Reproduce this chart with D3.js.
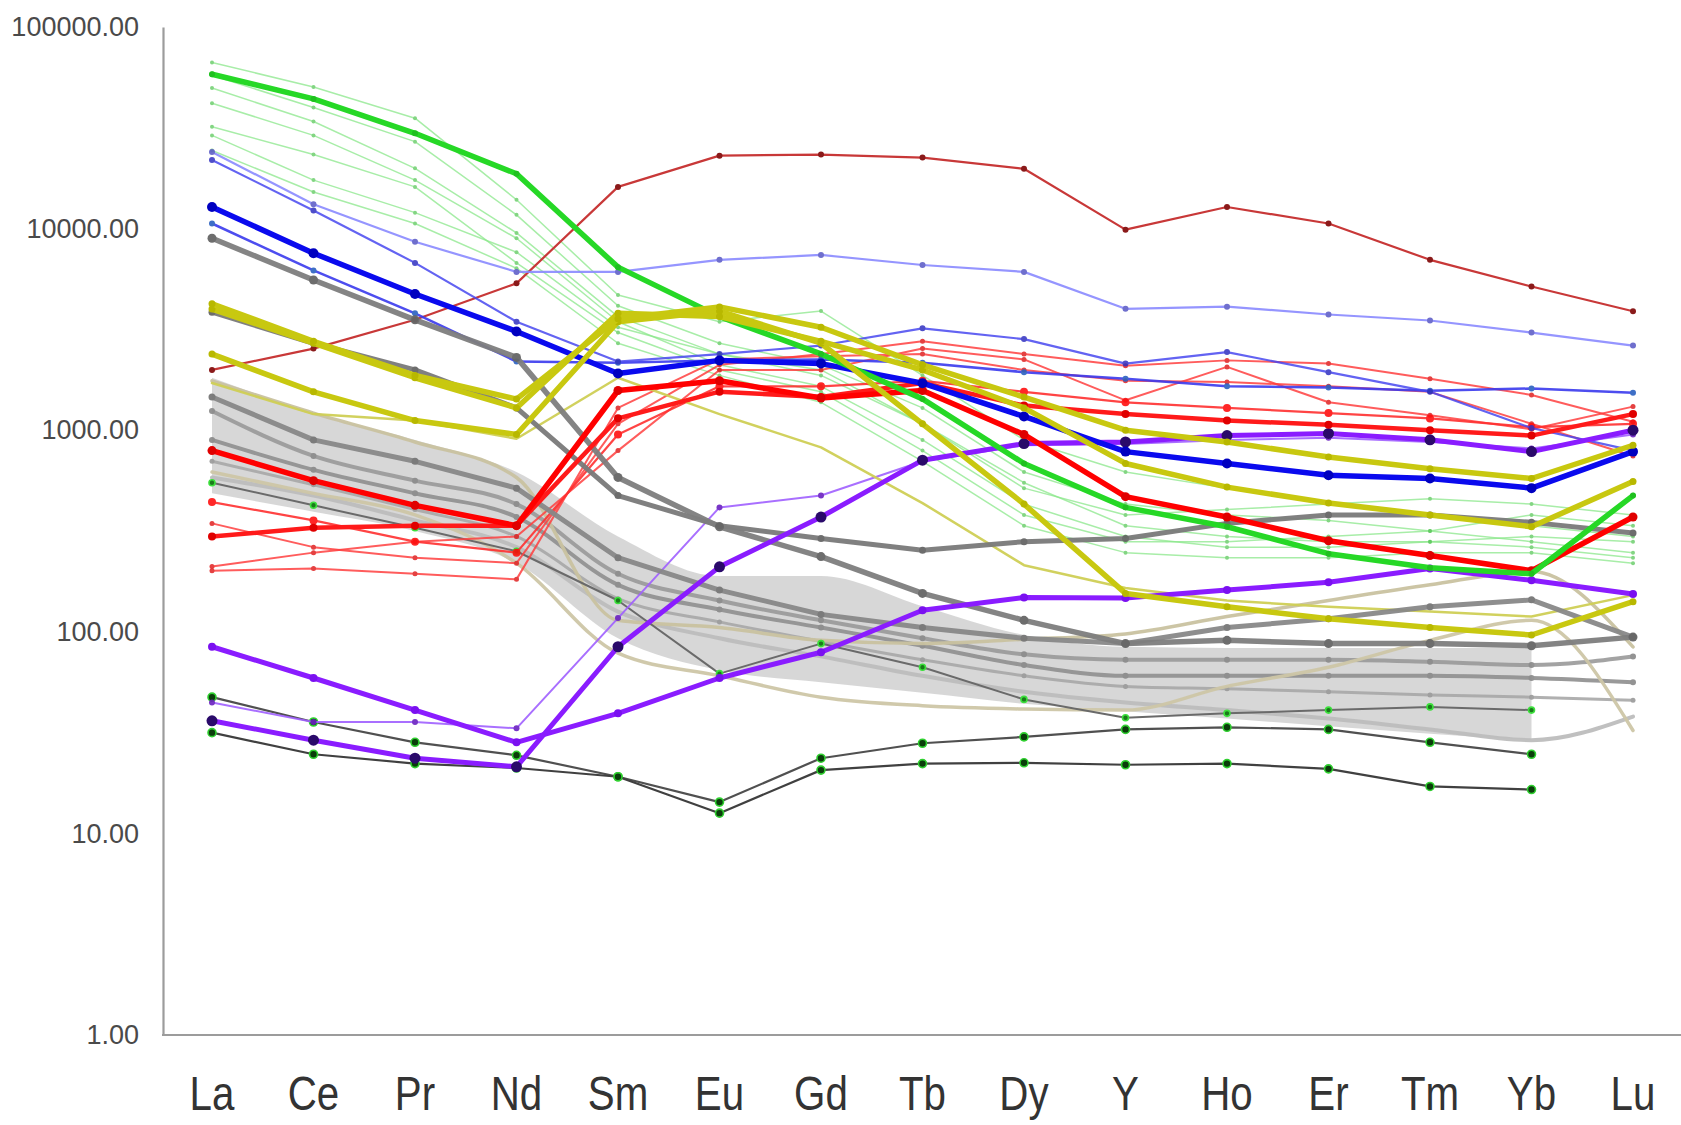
<!DOCTYPE html>
<html><head><meta charset="utf-8">
<script src="https://cdn.jsdelivr.net/npm/d3@7"></script>
<style>
html,body{margin:0;padding:0;background:#fff;}
svg{display:block;font-family:"Liberation Sans",Arial,sans-serif;}
</style></head>
<body>
<svg id="chart" width="1681" height="1125"></svg>
<script>
// REE elements along the x axis
const elements = ["La","Ce","Pr","Nd","Sm","Eu","Gd","Tb","Dy","Y","Ho","Er","Tm","Yb","Lu"];
const yTicks = [1, 10, 100, 1000, 10000, 100000];
const yTickLabels = ["1.00","10.00","100.00","1000.00","10000.00","100000.00"];

// shaded reference field (La..Yb)
const fieldUpper = [1820, 1216, 895, 620, 297, 189, 189, 134, 96.4, 84.2, 83.2, 83.2, 83.2, 83.2];
const fieldLower = [486, 394, 316, 219, 92.9, 64.4, 56.2, 49.8, 44.0, 40.4, 37.1, 34.0, 31.2, 29.0];

// grey samples inside the field
const greyField1 = [1246, 745, 562, 430, 194, 143, 114, 92.9, 77.3, 72.7, 72.7, 72.7, 71.0, 68.4, 75.5];
const greyField2 = [895, 636, 486, 371, 171, 129, 105, 85.3, 68.4, 60.5, 60.5, 60.5, 60.5, 59.0, 56.2];
const greyField3 = [701, 536, 404, 297, 146, 112, 89.6, 72.7, 60.5, 53.6, 52.2, 50.4, 48.6, 47.4, 45.7];
const greyField4 = [583, 474, 357, 263, 126, 92.9, 75.5, 60.5, 50.4, 44.6, 40.9, 37.1, 32.8, 29.0, 38.0];
const tan1 = [1757, 1216, 874, 583, 114, 105, 90.7, 87.4, 91.8, 97.6, 119, 143, 171, 199, 84.2];
const tan2 = [620, 486, 380, 219, 78.3, 60.5, 47.4, 43.0, 41.4, 40.9, 53.6, 66.7, 90.7, 114, 32.4];

// grey samples
const grey1 = [8955, 5556, 3527, 2297, 583, 332, 236, 155, 114, 87.4, 90.7, 87.4, 87.4, 85.3, 94.1];
const grey2 = [3850, 2700, 1990, 1290, 474, 336, 290, 254, 280, 290, 345, 380, 380, 349, 309];
const grey3 = [1462, 895, 701, 516, 233, 161, 122, 105, 92.9, 87.4, 105, 116, 133, 144, 94.1];

// low-concentration samples (no Lu)
const dark1 = [47.4, 35.7, 28.3, 24.4, 19.1, 14.3, 23.6, 28.0, 30.1, 32.8, 33.6, 32.8, 28.3, 24.7, null];
const dark2 = [31.6, 24.7, 22.2, 21.1, 19.1, 12.6, 20.6, 22.2, 22.4, 21.9, 22.2, 20.9, 17.1, 16.5, null];
const dark3 = [549, 424, 328, 251, 143, 62.0, 87.4, 66.7, 46.2, 37.5, 39.4, 40.9, 42.4, 40.9, null];

// light green group
const lightGreen1 = [66700, 50400, 35300, 13900, 4680, 3450, 3900, 1870, 895, 620, 516, 430, 380, 336, 297];
const lightGreen2 = [57600, 39900, 27000, 11700, 4140, 2700, 2110, 1290, 620, 430, 380, 357, 316, 280, 247];
const lightGreen3 = [49800, 34000, 19900, 9520, 3660, 2385, 1870, 1076, 549, 336, 297, 280, 280, 263, 233];
const lightGreen4 = [41900, 29000, 17400, 8955, 3450, 2110, 1650, 895, 430, 297, 263, 263, 280, 297, 280];
const lightGreen5 = [32000, 23300, 16100, 6760, 3050, 1990, 1550, 792, 380, 280, 280, 297, 316, 380, 336];
const lightGreen6 = [29000, 17400, 12000, 7640, 3240, 2385, 1990, 1076, 516, 380, 404, 430, 457, 430, 380];
const lightGreen7 = [24400, 15200, 10600, 6360, 2700, 1870, 1375, 701, 336, 247, 233, 233, 247, 247, 219];
const greenMain = [58300, 44000, 29700, 18700, 6440, 3660, 2390, 1430, 684, 414, 332, 244, 208, 194, 474];

// red group
const redBrown = [1990, 2540, 3530, 5350, 16100, 23000, 23300, 22500, 19800, 9880, 12800, 10600, 7000, 5160, 3890];
const red3 = [440, 357, 280, 247, 952, 1650, 1650, 1757, 1550, 1375, 1290, 1216, 1144, 1036, 1076];
const red4 = [345, 263, 233, 219, 1076, 2110, 2385, 2760, 2385, 2090, 2220, 2140, 1800, 1496, 1101];
const red5 = [211, 247, 280, 297, 792, 1990, 1990, 2540, 2245, 1407, 2060, 1375, 1187, 1012, 1309];
const red6 = [201, 206, 194, 182, 1290, 2245, 2330, 2385, 1990, 1757, 1735, 1650, 1550, 1076, 745];
const red2 = [297, 328, 336, 336, 1145, 1553, 1462, 1714, 1325, 1202, 1117, 1064, 1000, 940, 1202];
const redMain = [792, 562, 424, 336, 1574, 1758, 1445, 1574, 952, 468, 371, 283, 239, 201, 371];

// blue group
const periwinkle = [24000, 13200, 8600, 6100, 6100, 7000, 7400, 6600, 6100, 4000, 4100, 3750, 3500, 3050, 2630];
const blue2 = [21900, 12300, 6760, 3450, 2190, 2385, 2630, 3200, 2830, 2140, 2440, 1940, 1550, 1025, 792];
const blue3 = [10600, 6200, 3800, 2190, 2160, 2220, 2245, 2160, 1940, 1800, 1650, 1630, 1570, 1610, 1535];
const blueMain = [12800, 7550, 4740, 3090, 1910, 2220, 2140, 1710, 1170, 783, 684, 598, 576, 516, 783];

// yellow group
const yellow1 = [4240, 2760, 1870, 1427, 3570, 4090, 3240, 2110, 1460, 1000, 874, 736, 644, 576, 842];
const yellow2 = [3990, 2700, 1820, 1290, 3800, 3660, 2760, 1990, 1290, 684, 522, 435, 380, 332, 556];
const yellow3 = [2385, 1550, 1116, 952, 3450, 3900, 2700, 1076, 430, 155, 133, 116, 105, 96.4, 141];
const yellowThin = [1714, 1202, 1116, 907, 1820, 1202, 822, 435, 214, 165, 143, 133, 126, 119, 152];

// purple group
const purpleMain = [84.3, 59.0, 40.9, 28.3, 39.4, 59.0, 79.2, 128, 148, 147, 161, 176, 206, 180, 154];
const purpleDark = [36.2, 29.0, 23.6, 21.4, 84.3, 210, 371, 710, 858, 874, 940, 964, 896, 783, 1000];
const purpleThin = [44.6, 35.7, 35.7, 33.2, 117, 414, 474, 701, 842, 853, 895, 918, 874, 812, 952];

// drawing styles, in paint order
const series = [
  {v: greyField4, c: "#bdbdbd", w: 4, o: 0.95, m: 0, curve: true},
  {v: greyField3, c: "#a8a8a8", w: 3, o: 0.9, m: 2.5, mc: "#999", curve: true},
  {v: greyField2, c: "#8f8f8f", w: 4, o: 0.9, m: 3, mc: "#888", curve: true},
  {v: greyField1, c: "#9a9a9a", w: 4, o: 0.9, m: 3, mc: "#888", curve: true},
  {v: tan2, c: "#cdc6a6", w: 3.5, o: 0.95, m: 0, curve: true},
  {v: tan1, c: "#c9c2a0", w: 3.5, o: 0.95, m: 0, curve: true},
  {v: dark3, c: "#6a6a6a", w: 2, o: 1, m: 3, mc: "#1a7a1a", ms: "#3ce03c"},
  {v: dark1, c: "#505050", w: 2.2, o: 1, m: 4, mc: "#0b3d0b", ms: "#30d030"},
  {v: dark2, c: "#404040", w: 2.2, o: 1, m: 4, mc: "#0b3d0b", ms: "#30d030"},
  {v: lightGreen7, c: "#8be88b", w: 1.5, o: 0.75, m: 2, mc: "#5ac85a"},
  {v: lightGreen6, c: "#8be88b", w: 1.5, o: 0.75, m: 2, mc: "#5ac85a"},
  {v: lightGreen5, c: "#8be88b", w: 1.5, o: 0.75, m: 2, mc: "#5ac85a"},
  {v: lightGreen4, c: "#8be88b", w: 1.5, o: 0.75, m: 2, mc: "#5ac85a"},
  {v: lightGreen3, c: "#8be88b", w: 1.5, o: 0.75, m: 2, mc: "#5ac85a"},
  {v: lightGreen2, c: "#8be88b", w: 1.5, o: 0.75, m: 2, mc: "#5ac85a"},
  {v: lightGreen1, c: "#8be88b", w: 1.5, o: 0.75, m: 2, mc: "#5ac85a"},
  {v: red6, c: "#ff4040", w: 2, o: 0.85, m: 2.5, mc: "#e02020"},
  {v: red5, c: "#ff4040", w: 2, o: 0.85, m: 2.5, mc: "#e02020"},
  {v: red4, c: "#ff4040", w: 2, o: 0.85, m: 2.5, mc: "#e02020"},
  {v: red3, c: "#ff3030", w: 2.2, o: 0.9, m: 4, mc: "#ff1010"},
  {v: redBrown, c: "#c83838", w: 2.2, o: 1, m: 3, mc: "#8a1a1a"},
  {v: periwinkle, c: "#8a8aff", w: 2.2, o: 0.9, m: 3, mc: "#6060c8"},
  {v: blue3, c: "#3a3aee", w: 2.5, o: 0.9, m: 3, mc: "#2a60c0"},
  {v: blue2, c: "#4848f0", w: 2.2, o: 0.85, m: 3, mc: "#3030c0"},
  {v: purpleThin, c: "#a060ff", w: 2, o: 0.9, m: 3, mc: "#6a20c0"},
  {v: yellowThin, c: "#cfcf55", w: 2.5, o: 0.95, m: 0},
  {v: grey3, c: "#888888", w: 5, o: 0.95, m: 3.5, mc: "#777"},
  {v: grey2, c: "#7a7a7a", w: 5, o: 0.95, m: 3.5, mc: "#666"},
  {v: grey1, c: "#7e7e7e", w: 5.5, o: 0.95, m: 4.5, mc: "#666"},
  {v: purpleMain, c: "#8a1cff", w: 5, o: 1, m: 4, mc: "#7a10f0"},
  {v: purpleDark, c: "#8a1cff", w: 5, o: 1, m: 5.5, mc: "#2a0a6a"},
  {v: red2, c: "#ff1a1a", w: 4.5, o: 1, m: 4, mc: "#e00000"},
  {v: redMain, c: "#ff0000", w: 5.5, o: 1, m: 4.5, mc: "#e00000"},
  {v: blueMain, c: "#0a0aee", w: 5.5, o: 1, m: 5, mc: "#0000c0"},
  {v: greenMain, c: "#26d826", w: 5.5, o: 1, m: 3, mc: "#20c020"},
  {v: yellow3, c: "#c8c810", w: 5.5, o: 1, m: 3.5, mc: "#b8b800"},
  {v: yellow2, c: "#c8c810", w: 5.5, o: 1, m: 3.5, mc: "#b8b800"},
  {v: yellow1, c: "#c8c810", w: 5.5, o: 1, m: 3.5, mc: "#b8b800"}
];

const svg = d3.select("#chart");
const x = d3.scalePoint().domain(elements).range([212, 1633]);
const y = d3.scaleLog().domain([1, 100000]).range([1035, 27]);

// shaded field
const area = d3.area()
  .x((d, i) => x(elements[i]))
  .y0(d => y(d[0]))
  .y1(d => y(d[1]))
  .curve(d3.curveMonotoneX);
svg.append("path")
  .datum(fieldLower.map((d, i) => [d, fieldUpper[i]]))
  .attr("d", area)
  .attr("fill", "#d3d3d3")
  .attr("opacity", 0.9);

const lineLinear = d3.line()
  .defined(d => d != null)
  .x((d, i) => x(elements[i]))
  .y(d => y(d));
const lineCurve = d3.line()
  .defined(d => d != null)
  .x((d, i) => x(elements[i]))
  .y(d => y(d))
  .curve(d3.curveMonotoneX);

const g = svg.append("g").attr("fill", "none").attr("stroke-linejoin", "round").attr("stroke-linecap", "round");
series.forEach(s => {
  const grp = g.append("g").attr("opacity", s.o);
  grp.append("path")
    .attr("d", (s.curve ? lineCurve : lineLinear)(s.v))
    .attr("stroke", s.c)
    .attr("stroke-width", s.w);
  if (s.m > 0) {
    grp.selectAll("circle")
      .data(s.v.map((d, i) => ({d, i})).filter(p => p.d != null))
      .join("circle")
      .attr("cx", p => x(elements[p.i]))
      .attr("cy", p => y(p.d))
      .attr("r", s.m)
      .attr("fill", s.mc)
      .attr("stroke", s.ms || "none")
      .attr("stroke-width", s.ms ? 1.6 : 0);
  }
});

// y axis
const yAxis = d3.axisLeft(y)
  .tickValues(yTicks)
  .tickFormat((d, i) => yTickLabels[i])
  .tickSize(0)
  .tickPadding(24);
const ya = svg.append("g").attr("transform", "translate(163,0)").call(yAxis);
ya.select(".domain").attr("stroke", "#9c9c9c").attr("stroke-width", 2.2);
ya.selectAll("text")
  .attr("font-family", "'Liberation Sans', Arial, sans-serif")
  .attr("font-size", 27)
  .attr("fill", "#4a4a4a");

// x axis line and element labels
svg.append("line")
  .attr("x1", 162).attr("x2", 1681)
  .attr("y1", y(1)).attr("y2", y(1))
  .attr("stroke", "#9c9c9c").attr("stroke-width", 2.2);
svg.append("g").selectAll("text")
  .data(elements)
  .join("text")
  .attr("transform", d => `translate(${x(d)},1110) scale(0.84,1)`)
  .attr("text-anchor", "middle")
  .attr("font-size", 48)
  .attr("fill", "#333")
  .text(d => d);
</script>
</body></html>
